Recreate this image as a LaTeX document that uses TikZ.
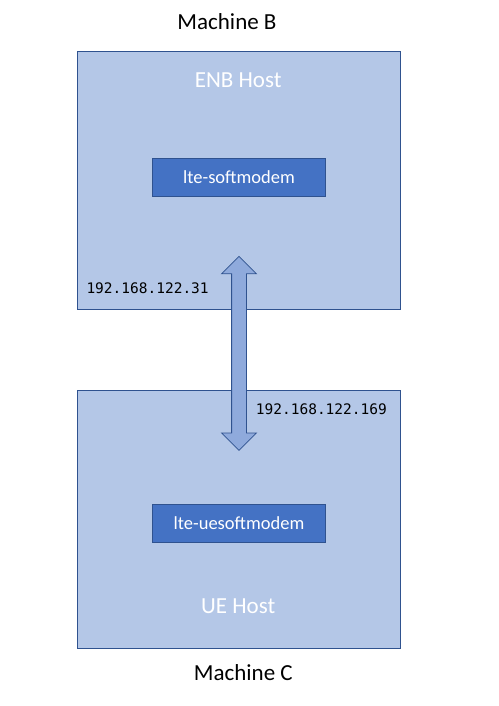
\documentclass[tikz,border=0pt]{standalone}
\usepackage{fontspec}
\setmainfont{Carlito}
\newfontfamily\ipfont{DejaVu Sans Mono}
\usetikzlibrary{calc,positioning,shapes.arrows}

\definecolor{hostfill}{HTML}{B4C7E7}
\definecolor{procfill}{HTML}{4472C4}
\definecolor{linkfill}{HTML}{8FAADC}
\definecolor{edgeblue}{HTML}{2F528F}

\begin{document}
\begin{tikzpicture}[x=1pt,y=-1pt,
    host/.style={draw=edgeblue,fill=hostfill,line width=0.8pt,minimum width=323pt,minimum height=258pt},
    proc/.style={draw=edgeblue,fill=procfill,line width=0.8pt,minimum width=173pt,minimum height=38.5pt,text=white,font=\fontsize{18.5}{22}\selectfont},
    hostname/.style={text=white,font=\fontsize{23}{27}\selectfont},
    machine/.style={font=\fontsize{23}{27}\selectfont},
    ip/.style={inner sep=2pt,font=\ipfont\fontsize{14.5}{17}\selectfont}]
    \useasboundingbox (0,0) rectangle (498,706);
    % machine B
    \node[host] (enb) at (238.7,180.5) {};
    \node[machine] (machB) at (227,21.5) {Machine B};
    \node[hostname] (enb_name) at ($(enb.north)+(-0.5,28.8)$) {ENB Host};
    \node[proc] (enb_proc) at (239,177.5) {lte-softmodem};
    \node[ip,anchor=west] (enb_ip) at ($(enb.south west)+(7.5,-22)$) {192.168.122.31};
    % machine C
    \node[host] (ue) at (238.7,519.2) {};
    \node[machine] (machC) at (243.3,673) {Machine C};
    \node[hostname] (ue_name) at ($(ue.south)+(-0.5,-42.5)$) {UE Host};
    \node[proc] (ue_proc) at (239,523.3) {lte-uesoftmodem};
    \node[ip,anchor=west] (ue_ip) at ($(ue.north)+(15,19)$) {192.168.122.169};
    %
    \node[double arrow,draw=edgeblue,fill=linkfill,line width=0.8pt,inner sep=7pt,
          shape border rotate=90,minimum height=194pt,
          double arrow head extend=10pt] (link) at (239,353.4) {};
\end{tikzpicture}
\end{document}
